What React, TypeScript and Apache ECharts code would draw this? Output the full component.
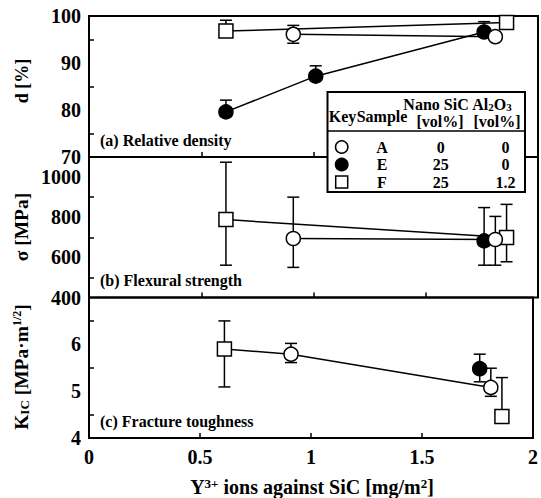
import React, { useEffect, useRef } from "react";
import * as echarts from "echarts";

const FONT = '"Liberation Serif", "Times New Roman", serif';

// ---------- data ----------
// x axis (Y3+ ions against SiC, mg/m2)
const xLabels = [0, 0.5, 1, 1.5, 2];
const xTicks = [0.5, 1, 1.5];

// each point: [x, value, error below, error above]
// (a) Relative density [%]
const densityA = [[0.91, 96.1, 1.9, 1.9], [1.81, 95.6, 0, 0]];
const densityE = [[0.61, 79.6, 0, 2.5], [1.01, 87.2, 0, 2.2], [1.76, 96.6, 0, 2.2]];
const densityF = [[0.61, 96.8, 0, 2.3], [1.86, 98.6, 0, 0]];
const densityLabels = [70, 80, 90, 100];
const densityTicks = [75, 85, 95];

// (b) Flexural strength [MPa]
const strengthA = [[0.91, 694, 144, 206], [1.81, 689, 128, 115]];
const strengthE = [[1.76, 682, 121, 166]];
const strengthF = [[0.61, 788, 227, 286], [1.86, 699, 121, 165]];
const strengthLabels = [400, 600, 800, 1000];
const strengthTicks = [500, 700, 900];

// (c) Fracture toughness [MPa m^1/2]
const toughnessA = [[0.91, 5.79, 0.18, 0.23], [1.81, 5.08, 0.19, 0.41]];
const toughnessE = [[1.76, 5.48, 0.28, 0.31]];
const toughnessF = [[0.61, 5.9, 0.81, 0.6], [1.86, 4.46, 0, 0.83]];
const toughnessLabels = [4, 5, 6];
const toughnessTicks = [4.5, 5.5, 6.5];

// connecting lines: chains of [sample, point index]
const densityLinks = [
  [["A", 0], ["A", 1]],
  [["E", 0], ["E", 1], ["E", 2]],
  [["F", 0], ["F", 1]],
];
const strengthLinks = [
  [["A", 0], ["A", 1]],
  [["F", 0], ["F", 1]],
];
const toughnessLinks = [[["F", 0], ["A", 0], ["A", 1]]];

// legend table
const legendSamples = ["A", "E", "F"];
const legendNanoSiC = ["0", "25", "25"];
const legendAl2O3 = ["0", "0", "1.2"];

// ---------- styles ----------
const markerStyle: Record<string, { symbol: string; fill: string }> = {
  A: { symbol: "circle", fill: "#fff" },
  E: { symbol: "circle", fill: "#000" },
  F: { symbol: "rect", fill: "#fff" },
};
const drawOrder = ["E", "F", "A"];

const panels = [
  {
    top: 16, height: 141, min: 70, max: 100,
    labels: densityLabels, ticks: densityTicks,
    samples: { A: densityA, E: densityE, F: densityF } as Record<string, number[][]>,
    links: densityLinks,
    title: "{n|d [%]}", titleX: 22, titleY: 81, titleSize: 18,
    note: "(a) Relative density", noteY: 140,
  },
  {
    top: 157, height: 140.5, min: 400, max: 1100,
    labels: strengthLabels, ticks: strengthTicks,
    samples: { A: strengthA, E: strengthE, F: strengthF } as Record<string, number[][]>,
    links: strengthLinks,
    title: "{n|σ [MPa]}", titleX: 21, titleY: 227, titleSize: 19.5,
    note: "(b) Flexural strength", noteY: 280,
  },
  {
    top: 297.5, height: 140.5, min: 4, max: 7,
    labels: toughnessLabels, ticks: toughnessTicks,
    samples: { A: toughnessA, E: toughnessE, F: toughnessF } as Record<string, number[][]>,
    links: toughnessLinks,
    title: "{n|K}{s|IC}{n| [MPa·m}{p|1/2}{n|]}", titleX: 21, titleY: 367, titleSize: 19.5,
    note: "(c) Fracture toughness", noteY: 421,
  },
];

const tok = (size: number, extra: any = {}) => ({
  fontSize: size, fontWeight: "bold", fontFamily: FONT, fill: "#000", ...extra,
});

function renderErr(_params: any, api: any) {
  const x = api.value(0), y = api.value(1), lo = api.value(2), hi = api.value(3);
  const c = api.coord([x, y]);
  const t = api.coord([x, y + hi]);
  const b = api.coord([x, y - lo]);
  const st = { stroke: "#000", lineWidth: 1.5 };
  const children: any[] = [];
  if (hi > 0 || lo > 0) {
    children.push({ type: "line", shape: { x1: c[0], y1: b[1], x2: c[0], y2: t[1] }, style: st });
  }
  if (hi > 0) children.push({ type: "line", shape: { x1: c[0] - 6, y1: t[1], x2: c[0] + 6, y2: t[1] }, style: st });
  if (lo > 0) children.push({ type: "line", shape: { x1: c[0] - 6, y1: b[1], x2: c[0] + 6, y2: b[1] }, style: st });
  return { type: "group", children };
}

const plainNumber = (v: number) => String(v);

function buildOption() {
  const grid: any[] = [];
  const xAxis: any[] = [];
  const yAxis: any[] = [];
  const series: any[] = [];
  const graphic: any[] = [];

  panels.forEach((p, i) => {
    grid.push({
      left: 89, width: 449, top: p.top, height: p.height,
      show: true, borderColor: "#000", borderWidth: 2, backgroundColor: "transparent",
    });
    xAxis.push({
      type: "value", gridIndex: i, min: 0, max: 2,
      axisLine: { show: false },
      splitLine: { show: false },
      axisTick: { show: true, inside: true, length: 5, customValues: xTicks, lineStyle: { color: "#000", width: 1.5 } },
      axisLabel: i === 2
        ? { show: true, customValues: xLabels, formatter: plainNumber, fontSize: 20, fontWeight: "bold", fontFamily: FONT, color: "#000", margin: 9 }
        : { show: false },
    });
    yAxis.push({
      type: "value", gridIndex: i, min: p.min, max: p.max,
      axisLine: { show: false },
      splitLine: { show: false },
      axisTick: { show: true, inside: true, length: 5, customValues: p.ticks, lineStyle: { color: "#000", width: 1.5 } },
      axisLabel: { customValues: p.labels, formatter: plainNumber, fontSize: 20, fontWeight: "bold", fontFamily: FONT, color: "#000", margin: 8 },
    });

    const all: number[][] = [];
    drawOrder.forEach((k) => all.push(...p.samples[k]));
    series.push({
      type: "custom", xAxisIndex: i, yAxisIndex: i, renderItem: renderErr,
      data: all, encode: { x: 0, y: 1 }, z: 1, clip: false, silent: true,
    });
    p.links.forEach((chain: any[]) => {
      series.push({
        type: "line", xAxisIndex: i, yAxisIndex: i, symbol: "none", z: 2, silent: true,
        lineStyle: { color: "#000", width: 1.5 },
        data: chain.map(([s, k]: [string, number]) => [p.samples[s][k][0], p.samples[s][k][1]]),
      });
    });
    drawOrder.forEach((k, j) => {
      series.push({
        type: "scatter", xAxisIndex: i, yAxisIndex: i, z: 3 + j, silent: true,
        symbol: markerStyle[k].symbol, symbolSize: 14,
        itemStyle: { color: markerStyle[k].fill, borderColor: "#000", borderWidth: 1.5, opacity: 1 },
        data: p.samples[k].map((d) => [d[0], d[1]]),
      });
    });

    graphic.push({
      type: "text", x: p.titleX, y: p.titleY, rotation: Math.PI / 2, z: 100,
      style: {
        text: p.title, align: "center", verticalAlign: "middle",
        textAlign: "center", textVerticalAlign: "middle",
        rich: {
          n: tok(p.titleSize),
          s: tok(13, { verticalAlign: "bottom" }),
          p: tok(12, { verticalAlign: "top" }),
        },
      },
    });
    graphic.push({
      type: "text", x: 100, y: p.noteY, z: 100,
      style: {
        text: p.note, ...tok(16), align: "left", verticalAlign: "middle",
        textAlign: "left", textVerticalAlign: "middle",
      },
    });
  });

  // x axis title
  graphic.push({
    type: "text", x: 312, y: 487, z: 100,
    style: {
      text: "{n|Y}{p|3+}{n| ions against SiC [mg/m}{p|2}{n|]}",
      align: "center", verticalAlign: "middle", textAlign: "center", textVerticalAlign: "middle",
      rich: { n: tok(20), p: tok(13, { verticalAlign: "top" }) },
    },
  });

  // legend table
  const L = 327.5, R = 525, T = 92, B = 192;
  graphic.push({
    type: "rect", z: 100, shape: { x: L, y: T, width: R - L, height: B - T },
    style: { fill: "#fff", stroke: "#000", lineWidth: 2 },
  });
  graphic.push({
    type: "line", z: 101, shape: { x1: L, y1: 131, x2: R, y2: 131 },
    style: { stroke: "#000", lineWidth: 1.5 },
  });
  const hdr = (text: string, x: number, y: number, rich?: any) => ({
    type: "text", x, y, z: 101,
    style: rich
      ? { text, rich, align: "center", verticalAlign: "middle", textAlign: "center", textVerticalAlign: "middle" }
      : { text, ...tok(16), align: "center", verticalAlign: "middle", textAlign: "center", textVerticalAlign: "middle" },
  });
  graphic.push(hdr("Key", 342.5, 116));
  graphic.push(hdr("Sample", 382, 116));
  graphic.push(hdr("Nano SiC", 436, 104));
  graphic.push(hdr("[vol%]", 440, 121));
  graphic.push(hdr("{n|Al}{s|2}{n|O}{s|3}", 492, 104, { n: tok(16), s: tok(11, { verticalAlign: "bottom" }) }));
  graphic.push(hdr("[vol%]", 497, 121));
  const rowY = [147, 164.5, 182];
  legendSamples.forEach((k, i) => {
    const y = rowY[i];
    const ms = markerStyle[k];
    if (ms.symbol === "circle") {
      graphic.push({
        type: "circle", z: 101, shape: { cx: 341.7, cy: y, r: 6.2 },
        style: { fill: ms.fill, stroke: "#000", lineWidth: 1.5 },
      });
    } else {
      graphic.push({
        type: "rect", z: 101, shape: { x: 335.7, y: y - 6, width: 12, height: 12 },
        style: { fill: ms.fill, stroke: "#000", lineWidth: 1.5 },
      });
    }
    graphic.push(hdr(k, 382, y));
    graphic.push(hdr(legendNanoSiC[i], 440.7, y));
    graphic.push(hdr(legendAl2O3[i], 505.5, y));
  });

  return {
    animation: false,
    backgroundColor: "#fff",
    grid, xAxis, yAxis, series, graphic,
  };
}

export default function App() {
  const ref = useRef<HTMLDivElement>(null);
  useEffect(() => {
    const chart = echarts.init(ref.current!, null, { renderer: "svg" });
    chart.setOption(buildOption() as any);
    return () => chart.dispose();
  }, []);
  return (
    <div
      ref={ref}
      style={{ position: "fixed", left: 0, top: 0, width: 541, height: 498, background: "#fff" }}
    />
  );
}
